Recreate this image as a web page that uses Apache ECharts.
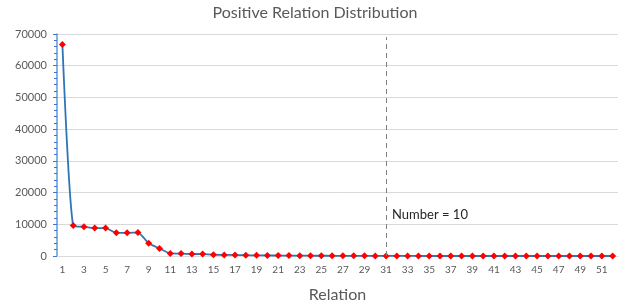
<!DOCTYPE html>
<html>
<head>
<meta charset="utf-8">
<script src="https://cdn.jsdelivr.net/npm/echarts@6/dist/echarts.min.js"></script>
<style>
  html, body { margin: 0; padding: 0; background: #fff; }
  #chart { width: 630px; height: 308px; }
</style>
</head>
<body>
<div id="chart"></div>
<script>
// relation index 1..52
var relations = [];
for (var i = 1; i <= 52; i++) relations.push(String(i));

// counts
var counts = [66700, 9600, 9200, 8800, 8800, 7300, 7300, 7400, 4000, 2400,
              800, 750, 650, 600, 400, 350, 300, 250, 200, 180,
              150, 120, 100, 90, 80, 70, 60, 50, 40, 30,
              10, 9, 8, 8, 7, 6, 6, 5, 5, 4,
              4, 3, 3, 3, 2, 2, 2, 1, 1, 1,
              1, 1];

var cutRelation = '31';
var cutLabel = 'Number = 10';

var chart = echarts.init(document.getElementById('chart'));
var font = 'Lato, "Open Sans", sans-serif';

var option = {
    animation: false,
    textStyle: { fontFamily: font },
    title: {
        text: 'Positive Relation Distribution',
        left: 'center',
        top: 0,
        textStyle: { fontFamily: font, fontSize: 16, fontWeight: 'normal', color: '#595959' }
    },
    grid: { left: 57, right: 12, top: 34, bottom: 52 },
    xAxis: {
        type: 'category',
        data: relations,
        boundaryGap: true,
        name: 'Relation',
        nameLocation: 'middle',
        nameGap: 31,
        nameTextStyle: { fontFamily: font, fontSize: 16, color: '#595959' },
        axisLine: { show: true, lineStyle: { color: '#d9d9d9' } },
        axisTick: { show: false },
        axisLabel: { interval: 1, fontSize: 10, color: '#595959', margin: 9 }
    },
    yAxis: {
        type: 'value',
        min: 0,
        max: 70000,
        interval: 10000,
        axisLine: { show: true, lineStyle: { color: '#5b9bd5', width: 1.5 } },
        axisTick: { show: true, length: 4, lineStyle: { color: '#4472c4' } },
        minorTick: { show: true, splitNumber: 5, length: 3, lineStyle: { color: '#4472c4' } },
        splitLine: { lineStyle: { color: '#d9d9d9' } },
        axisLabel: {
            fontSize: 11, color: '#595959', margin: 10,
            formatter: function (v) { return String(v); }
        }
    },
    series: [{
        type: 'line',
        data: counts,
        smooth: 0.2,
        symbol: 'diamond',
        symbolSize: 7,
        itemStyle: { color: '#ff0000' },
        lineStyle: { color: '#2e75b6', width: 1.8 },
        markLine: {
            silent: true,
            symbol: 'none',
            label: { show: false },
            lineStyle: { color: '#7f7f7f', type: [5, 4], width: 1 },
            data: [[{ coord: [cutRelation, 0] }, { coord: [cutRelation, 69000] }]]
        },
        markPoint: {
            silent: true,
            symbol: 'circle',
            symbolSize: 0,
            data: [{ coord: [cutRelation, 13000] }],
            label: {
                show: true,
                position: 'right',
                distance: 6,
                formatter: cutLabel,
                fontFamily: font,
                fontSize: 13,
                color: '#262626'
            }
        }
    }]
};
chart.setOption(option);
</script>
</body>
</html>
